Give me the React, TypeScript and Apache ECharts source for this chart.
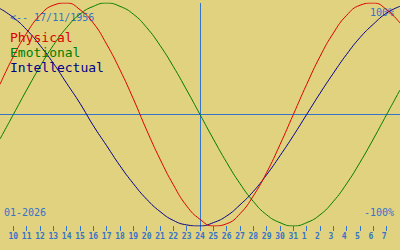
import React, { useEffect, useRef } from "react";
import * as echarts from "echarts";

const days = ["9","10","11","12","13","14","15","16","17","18","19","20","21","22","23","24","25","26","27","28","29","30","31","1","2","3","4","5","6","7","8"];
const physical = [0.27,0.52,0.73,0.89,0.98,1.00,0.94,0.82,0.63,0.40,0.14,-0.14,-0.40,-0.63,-0.82,-0.94,-1.00,-0.98,-0.89,-0.73,-0.52,-0.27,0,0.27,0.52,0.73,0.89,0.98,1.00,0.94,0.82];
const emotional = [-0.22,0,0.22,0.43,0.62,0.78,0.90,0.97,1.00,0.97,0.90,0.78,0.62,0.43,0.22,0,-0.22,-0.43,-0.62,-0.78,-0.90,-0.97,-1.00,-0.97,-0.90,-0.78,-0.62,-0.43,-0.22,0,0.22];
const intellectual = [0.95,0.87,0.76,0.62,0.46,0.28,0.10,-0.10,-0.28,-0.46,-0.62,-0.76,-0.87,-0.95,-0.99,-1.00,-0.97,-0.91,-0.81,-0.69,-0.54,-0.37,-0.19,0,0.19,0.37,0.54,0.69,0.81,0.91,0.97];
const seriesNames = ["Physical", "Emotional", "Intellectual"];
const seriesColors = ["#dc0000", "#007c00", "#00008c"];
const today = "24";
const birthLabel = "<-- 17/11/1956";
const monthLabel = "01-2026";
const topLabel = "100%";
const bottomLabel = "-100%";

const BG = "#e0d27f";
const BLUE = "#3573c8";
const MONO = "'DejaVu Sans Mono', 'Liberation Mono', monospace";

export default function App() {
  const ref = useRef<HTMLDivElement>(null);
  useEffect(() => {
    if (!ref.current) return;
    const chart = echarts.init(ref.current, undefined, { renderer: "svg" });
    const lastIdx = days.length - 1;
    const values = [physical, emotional, intellectual];
    const series: any[] = [2, 1, 0].map((i) => ({
      name: seriesNames[i],
      type: "line",
      data: values[i],
      smooth: 0.5,
      symbol: "none",
      lineStyle: { color: seriesColors[i], width: 1 },
      itemStyle: { color: seriesColors[i] },
      z: 3,
    }));
    series[0].markLine = {
      silent: true,
      symbol: ["none", "none"],
      label: { show: false },
      lineStyle: { color: BLUE, width: 1, type: "solid" },
      emphasis: { disabled: true },
      data: [{ xAxis: today }, { yAxis: 0 }],
      z: 1,
    };
    chart.setOption({
      animation: false,
      backgroundColor: BG,
      grid: { left: 0, right: 0, top: 3, bottom: 24 },
      legend: {
        orient: "vertical",
        left: 0,
        top: 25,
        icon: "none",
        itemWidth: 0,
        itemHeight: 14,
        itemGap: 1.5,
        selectedMode: false,
        data: seriesNames.map((n, i) => ({
          name: n,
          textStyle: { color: seriesColors[i], fontFamily: MONO, fontSize: 13 },
        })),
      },
      xAxis: {
        type: "category",
        data: days,
        boundaryGap: false,
        axisLine: { show: false, onZero: false },
        axisTick: {
          show: true,
          length: 5,
          interval: (idx: number) => idx !== 0 && idx !== lastIdx,
          lineStyle: { color: BLUE, width: 1 },
        },
        axisLabel: {
          interval: (idx: number) => idx !== 0 && idx !== lastIdx,
          margin: 6,
          color: BLUE,
          fontFamily: MONO,
          fontSize: 8,
          fontWeight: "bold",
          formatter: (v: string) => (v.length === 1 ? "{s|" + v + "}" : v),
          rich: {
            s: { color: BLUE, fontFamily: MONO, fontSize: 8, fontWeight: "bold", padding: [0, 5, 0, 0] },
          },
        },
        splitLine: { show: false },
      },
      yAxis: {
        type: "value",
        min: -1,
        max: 1,
        show: false,
      },
      graphic: [
        { type: "text", left: 10, top: 12, style: { text: birthLabel, fill: BLUE, font: "10px " + MONO } },
        { type: "text", right: 6, top: 7, style: { text: topLabel, fill: BLUE, font: "10px " + MONO } },
        { type: "text", right: 6, top: 207, style: { text: bottomLabel, fill: BLUE, font: "10px " + MONO } },
        { type: "text", left: 4, top: 207, style: { text: monthLabel, fill: BLUE, font: "10px " + MONO } },
      ],
      series,
    });
    return () => chart.dispose();
  }, []);
  return <div ref={ref} style={{ position: "fixed", left: 0, top: 0, width: 400, height: 250 }} />;
}
